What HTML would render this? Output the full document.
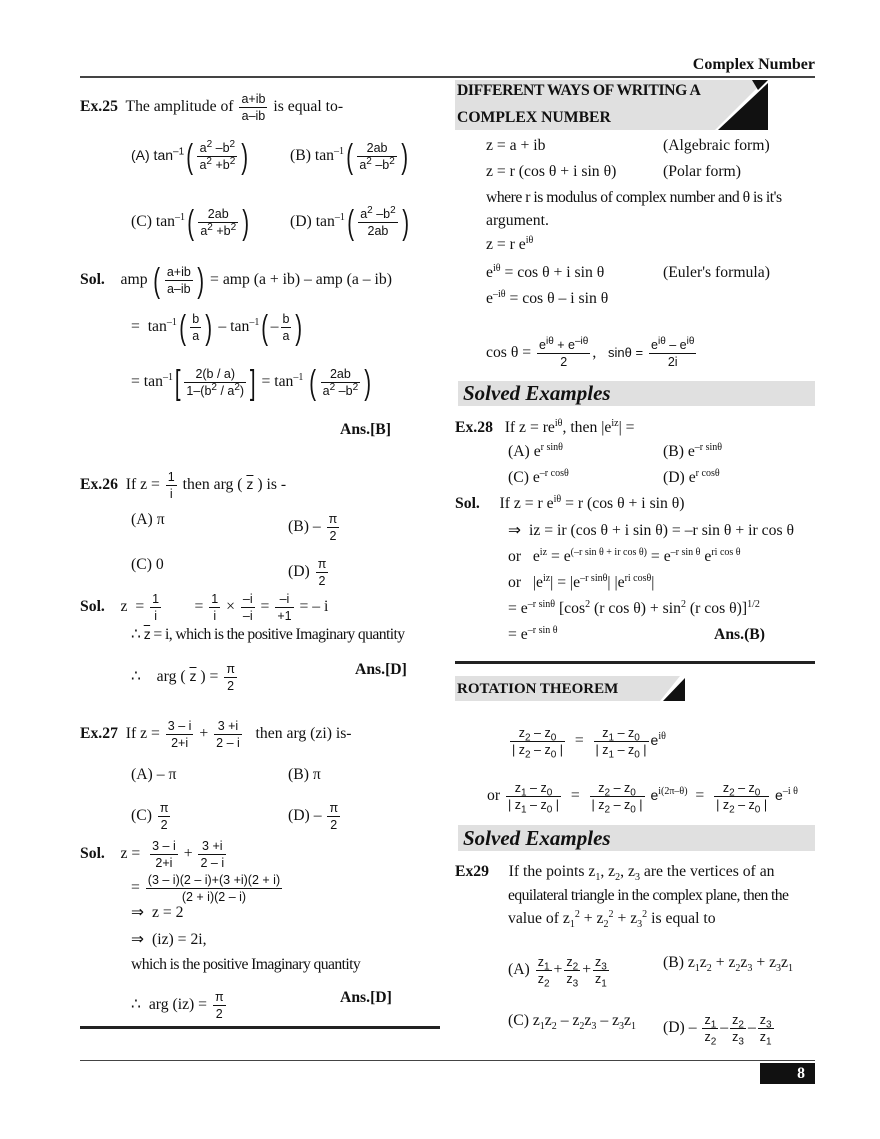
<!DOCTYPE html><html><head><style>
body{margin:0;width:880px;height:1139px;background:#fff;position:relative;font-family:"Liberation Serif",serif;font-size:15.7px;color:#111;overflow:hidden}
.a{position:absolute;white-space:nowrap;line-height:18px}
.f{display:inline-block;vertical-align:middle;text-align:center;font-family:"Liberation Sans",sans-serif;font-size:12.5px;line-height:16px;margin:0 2px}
.f>span{display:block;padding:0 2px}
.f>span+span{border-top:1px solid #111}
.s{font-family:"Liberation Sans",sans-serif;font-size:14px}
.p{font-size:34px;font-weight:100;vertical-align:middle;font-family:"Liberation Sans",sans-serif;transform:scaleX(.6);display:inline-block}
b{font-weight:bold}
sup,sub{font-size:10px;line-height:0}
.ban{position:absolute;background:#e0e0e0}
</style></head><body>
<div class="a" style="right:65px;top:56px;font-weight:bold;font-size:16px">Complex Number</div>
<div style="position:absolute;left:80px;top:76px;width:735px;height:2px;background:#444"></div>

<!-- LEFT -->
<div class="a" style="left:80px;top:91px"><b>Ex.25</b>&nbsp; The amplitude of <span class="f"><span>a+ib</span><span>a–ib</span></span> is equal to-</div>
<div class="a" style="left:131px;top:140px"><span class="s">(A) tan<sup>–1</sup></span><span class="p">(</span><span class="f"><span>a<sup>2</sup> –b<sup>2</sup></span><span>a<sup>2</sup> +b<sup>2</sup></span></span><span class="p">)</span></div>
<div class="a" style="left:290px;top:140px">(B) tan<sup>–1</sup><span class="p">(</span><span class="f"><span>2ab</span><span>a<sup>2</sup> –b<sup>2</sup></span></span><span class="p">)</span></div>
<div class="a" style="left:131px;top:206px">(C) tan<sup>–1</sup><span class="p">(</span><span class="f"><span>2ab</span><span>a<sup>2</sup> +b<sup>2</sup></span></span><span class="p">)</span></div>
<div class="a" style="left:290px;top:206px">(D) tan<sup>–1</sup><span class="p">(</span><span class="f"><span>a<sup>2</sup> –b<sup>2</sup></span><span>2ab</span></span><span class="p">)</span></div>
<div class="a" style="left:80px;top:264px"><b>Sol.</b>&nbsp;&nbsp;&nbsp;&nbsp;amp <span class="p">(</span><span class="f"><span>a+ib</span><span>a–ib</span></span><span class="p">)</span> = amp (a + ib) – amp (a – ib)</div>
<div class="a" style="left:131px;top:311px">= &nbsp;tan<sup>–1</sup><span class="p">(</span><span class="f"><span>b</span><span>a</span></span><span class="p">)</span> – tan<sup>–1</sup><span class="p">(</span>–<span class="f"><span>b</span><span>a</span></span><span class="p">)</span></div>
<div class="a" style="left:131px;top:366px">= tan<sup>–1</sup><span class="p">[</span><span class="f"><span>2(b / a)</span><span>1–(b<sup>2</sup> / a<sup>2</sup>)</span></span><span class="p">]</span> = tan<sup>–1</sup> <span class="p">(</span><span class="f"><span>2ab</span><span>a<sup>2</sup> –b<sup>2</sup></span></span><span class="p">)</span></div>
<div class="a" style="left:340px;top:421px;font-weight:bold">Ans.[B]</div>
<div class="a" style="left:80px;top:469px"><b>Ex.26</b>&nbsp; If z = <span class="f"><span>1</span><span>i</span></span> then arg ( <span style="text-decoration:overline" class="s">z</span> ) is -</div>
<div class="a" style="left:131px;top:511px">(A) π</div>
<div class="a" style="left:288px;top:511px">(B) – <span class="f"><span>π</span><span>2</span></span></div>
<div class="a" style="left:131px;top:556px">(C) 0</div>
<div class="a" style="left:288px;top:556px">(D) <span class="f"><span>π</span><span>2</span></span></div>
<div class="a" style="left:80px;top:591px"><b>Sol.</b>&nbsp;&nbsp;&nbsp;&nbsp;z &nbsp;= <span class="f"><span>1</span><span>i</span></span>&nbsp;&nbsp;&nbsp;&nbsp;&nbsp;&nbsp;&nbsp; = <span class="f"><span>1</span><span>i</span></span> × <span class="f"><span>–i</span><span>–i</span></span> = <span class="f"><span>–i</span><span>+1</span></span> = – i</div>
<div class="a" style="left:131px;top:625px;letter-spacing:-.6px">∴ <span style="text-decoration:overline" class="s">z</span> = i, which is the positive Imaginary quantity</div>
<div class="a" style="left:131px;top:661px">∴ &nbsp;&nbsp;&nbsp;arg ( <span style="text-decoration:overline" class="s">z</span> ) = <span class="f"><span>π</span><span>2</span></span></div>
<div class="a" style="left:355px;top:661px;font-weight:bold">Ans.[D]</div>
<div class="a" style="left:80px;top:718px"><b>Ex.27</b>&nbsp; If z = <span class="f"><span>3 – i</span><span>2+i</span></span> + <span class="f"><span>3 +i</span><span>2 – i</span></span>&nbsp;&nbsp; then arg (zi) is-</div>
<div class="a" style="left:131px;top:766px">(A) – π</div>
<div class="a" style="left:288px;top:766px">(B) π</div>
<div class="a" style="left:131px;top:800px">(C) <span class="f"><span>π</span><span>2</span></span></div>
<div class="a" style="left:288px;top:800px">(D) – <span class="f"><span>π</span><span>2</span></span></div>
<div class="a" style="left:80px;top:838px"><b>Sol.</b>&nbsp;&nbsp;&nbsp;&nbsp;z = &nbsp;<span class="f"><span>3 – i</span><span>2+i</span></span> + <span class="f"><span>3 +i</span><span>2 – i</span></span></div>
<div class="a" style="left:131px;top:872px">= <span class="f"><span>(3 – i)(2 – i)+(3 +i)(2 + i)</span><span>(2 + i)(2 – i)</span></span></div>
<div class="a" style="left:131px;top:904px">⇒ &nbsp;z = 2</div>
<div class="a" style="left:131px;top:931px">⇒ &nbsp;(iz) = 2i,</div>
<div class="a" style="left:131px;top:956px;letter-spacing:-.6px">which is the positive Imaginary quantity</div>
<div class="a" style="left:131px;top:989px">∴ &nbsp;arg (iz) = <span class="f"><span>π</span><span>2</span></span></div>
<div class="a" style="left:340px;top:989px;font-weight:bold">Ans.[D]</div>
<div style="position:absolute;left:80px;top:1026px;width:360px;height:3px;background:#222"></div>

<!-- RIGHT -->
<svg style="position:absolute;left:455px;top:80px" width="320" height="52">
<polygon points="0,0 310,0 260,50 0,50" fill="#e0e0e0"/>
<polygon points="297,0 313,0 303,10" fill="#111"/>
<polygon points="263,50 313,50 313,3" fill="#111"/>
</svg>
<div class="a" style="left:457px;top:82px;font-weight:bold;letter-spacing:-.4px">DIFFERENT WAYS OF WRITING A</div>
<div class="a" style="left:457px;top:109px;font-weight:bold">COMPLEX NUMBER</div>
<div class="a" style="left:486px;top:137px">z = a + ib</div><div class="a" style="left:663px;top:137px">(Algebraic form)</div>
<div class="a" style="left:486px;top:163px">z = r (cos θ + i sin θ)</div><div class="a" style="left:663px;top:163px">(Polar form)</div>
<div class="a" style="left:486px;top:189px;letter-spacing:-.5px">where r is modulus of complex number and θ is it's</div>
<div class="a" style="left:486px;top:212px">argument.</div>
<div class="a" style="left:486px;top:236px">z = r e<sup>iθ</sup></div>
<div class="a" style="left:486px;top:264px">e<sup>iθ</sup> = cos θ + i sin θ</div><div class="a" style="left:663px;top:264px">(Euler's formula)</div>
<div class="a" style="left:486px;top:290px">e<sup>–iθ</sup> = cos θ – i sin θ</div>
<div class="a" style="left:486px;top:337px">cos θ = <span class="f"><span>e<sup>iθ</sup> + e<sup>–iθ</sup></span><span>2</span></span>, &nbsp;&nbsp;<span class="s" style="font-size:13px">sinθ =</span> <span class="f"><span>e<sup>iθ</sup> – e<sup>iθ</sup></span><span>2i</span></span></div>
<div class="ban" style="left:458px;top:381px;width:357px;height:25px"></div>
<div class="a" style="left:463px;top:381px;font-size:21px;line-height:25px;font-weight:bold;font-style:italic">Solved Examples</div>
<div class="a" style="left:455px;top:419px"><b>Ex.28</b>&nbsp;&nbsp; If z = re<sup>iθ</sup>, then |e<sup>iz</sup>| =</div>
<div class="a" style="left:508px;top:443px">(A) e<sup>r sinθ</sup></div><div class="a" style="left:663px;top:443px">(B) e<sup>–r sinθ</sup></div>
<div class="a" style="left:508px;top:469px">(C) e<sup>–r cosθ</sup></div><div class="a" style="left:663px;top:469px">(D) e<sup>r cosθ</sup></div>
<div class="a" style="left:455px;top:495px"><b>Sol.</b>&nbsp;&nbsp;&nbsp;&nbsp; If z = r e<sup>iθ</sup> = r (cos θ + i sin θ)</div>
<div class="a" style="left:508px;top:522px">⇒ &nbsp;iz = ir (cos θ + i sin θ) = –r sin θ + ir cos θ</div>
<div class="a" style="left:508px;top:548px">or &nbsp;&nbsp;e<sup>iz</sup> = e<sup>(–r sin θ + ir cos θ)</sup> = e<sup>–r sin θ</sup> e<sup>ri cos θ</sup></div>
<div class="a" style="left:508px;top:574px">or &nbsp;&nbsp;|e<sup>iz</sup>| = |e<sup>–r sinθ</sup>| |e<sup>ri cosθ</sup>|</div>
<div class="a" style="left:508px;top:600px">= e<sup>–r sinθ</sup> [cos<sup>2</sup> (r cos θ) + sin<sup>2</sup> (r cos θ)]<sup>1/2</sup></div>
<div class="a" style="left:508px;top:626px">= e<sup>–r sin θ</sup></div>
<div class="a" style="left:714px;top:626px;font-weight:bold">Ans.(B)</div>
<div style="position:absolute;left:455px;top:661px;width:360px;height:3px;background:#222"></div>
<svg style="position:absolute;left:455px;top:674px" width="240" height="30">
<polygon points="0,2 225,2 205,27 0,27" fill="#e0e0e0"/>
<polygon points="208,27 230,27 230,4" fill="#111"/>
</svg>
<div class="a" style="left:457px;top:680px;font-weight:bold;font-size:15px">ROTATION THEOREM</div>
<div class="a" style="left:508px;top:725px"><span class="f"><span>z<sub>2</sub> – z<sub>0</sub></span><span>| z<sub>2</sub> – z<sub>0</sub> |</span></span> &nbsp;=&nbsp; <span class="f"><span>z<sub>1</sub> – z<sub>0</sub></span><span>| z<sub>1</sub> – z<sub>0</sub> |</span></span><span class="s">e</span><sup>iθ</sup></div>
<div class="a" style="left:487px;top:780px">or <span class="f"><span>z<sub>1</sub> – z<sub>0</sub></span><span>| z<sub>1</sub> – z<sub>0</sub> |</span></span> &nbsp;=&nbsp; <span class="f"><span>z<sub>2</sub> – z<sub>0</sub></span><span>| z<sub>2</sub> – z<sub>0</sub> |</span></span> <span class="s">e</span><sup>i(2π–θ)</sup>&nbsp; = &nbsp;<span class="f"><span>z<sub>2</sub> – z<sub>0</sub></span><span>| z<sub>2</sub> – z<sub>0</sub> |</span></span> <span class="s">e</span><sup>–i θ</sup></div>
<div class="ban" style="left:458px;top:825px;width:357px;height:26px"></div>
<div class="a" style="left:463px;top:826px;font-size:21px;line-height:25px;font-weight:bold;font-style:italic">Solved Examples</div>
<div class="a" style="left:455px;top:863px"><b>Ex29</b>&nbsp;&nbsp;&nbsp;&nbsp; If the points z<sub>1</sub>, z<sub>2</sub>, z<sub>3</sub> are the vertices of an</div>
<div class="a" style="left:508px;top:887px;letter-spacing:-.6px">equilateral triangle in the complex plane, then the</div>
<div class="a" style="left:508px;top:910px">value of z<sub>1</sub><sup>2</sup> + z<sub>2</sub><sup>2</sup> + z<sub>3</sub><sup>2</sup> is equal to</div>
<div class="a" style="left:508px;top:954px">(A) <span class="f"><span>z<sub>1</sub></span><span>z<sub>2</sub></span></span>+<span class="f"><span>z<sub>2</sub></span><span>z<sub>3</sub></span></span>+<span class="f"><span>z<sub>3</sub></span><span>z<sub>1</sub></span></span></div>
<div class="a" style="left:663px;top:954px">(B) z<sub>1</sub>z<sub>2</sub> + z<sub>2</sub>z<sub>3</sub> + z<sub>3</sub>z<sub>1</sub></div>
<div class="a" style="left:508px;top:1012px">(C) z<sub>1</sub>z<sub>2</sub> – z<sub>2</sub>z<sub>3</sub> – z<sub>3</sub>z<sub>1</sub></div>
<div class="a" style="left:663px;top:1012px">(D) – <span class="f"><span>z<sub>1</sub></span><span>z<sub>2</sub></span></span>–<span class="f"><span>z<sub>2</sub></span><span>z<sub>3</sub></span></span>–<span class="f"><span>z<sub>3</sub></span><span>z<sub>1</sub></span></span></div>

<div style="position:absolute;left:80px;top:1060px;width:735px;height:1px;background:#444"></div>
<div style="position:absolute;left:760px;top:1063px;width:55px;height:21px;background:#111;color:#fff;font-weight:bold;text-align:right;line-height:21px;box-sizing:border-box;padding-right:10px">8</div>
</body></html>
